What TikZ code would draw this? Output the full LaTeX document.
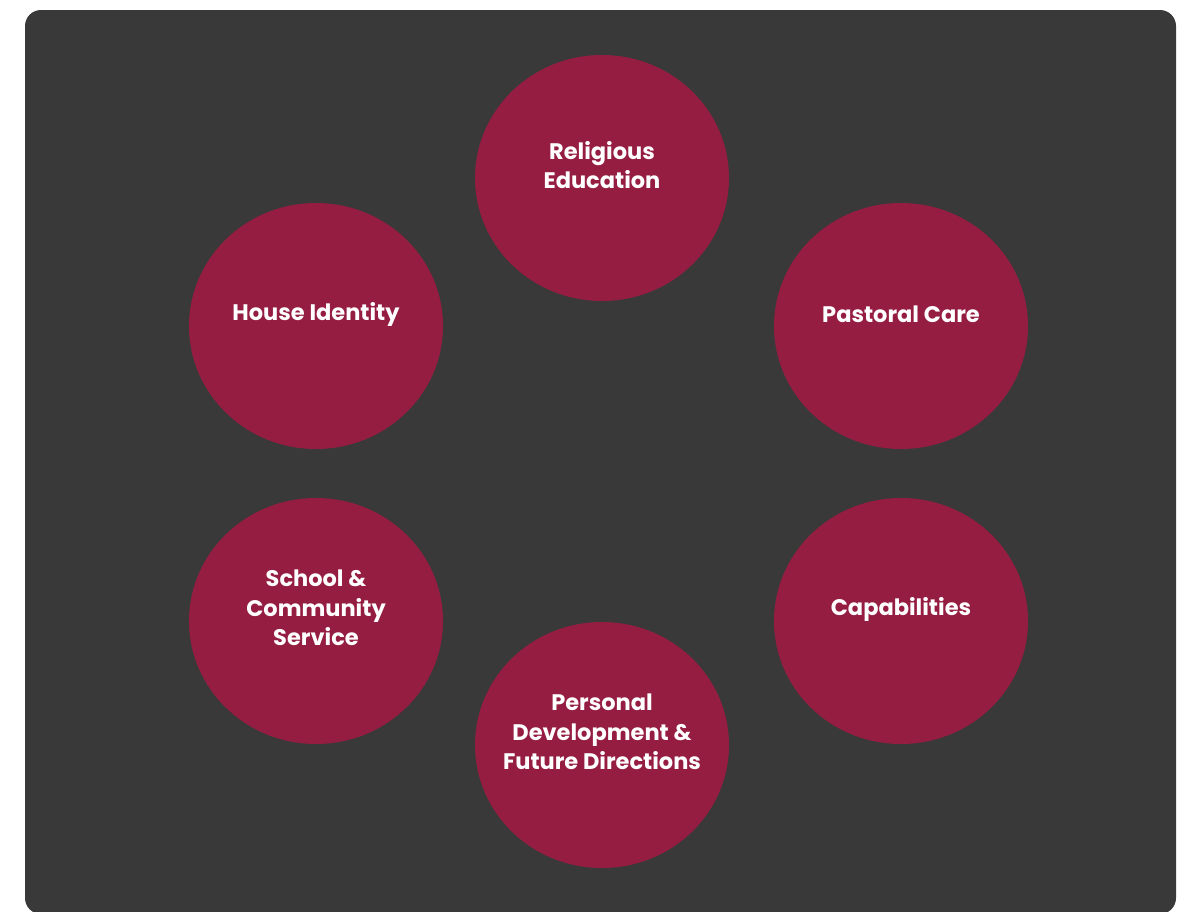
\documentclass[tikz,border=0pt]{standalone}
\usepackage{fontspec}
\setmainfont{Poppins}
\usetikzlibrary{positioning,shapes.geometric}
\definecolor{WheelBack}{RGB}{57,57,57}
\definecolor{WheelCrimson}{RGB}{149,29,65}
\tikzset{
  wheel part/.style={
    ellipse,
    fill=WheelCrimson,
    minimum width=254pt,
    minimum height=246pt,
    inner sep=0pt
  },
  wheel text/.style={
    text=white,
    align=center,
    font=\fontsize{22.5}{29.5}\selectfont\bfseries,
    inner sep=0pt
  }
}

\begin{document}
\begin{tikzpicture}[x=1pt,y=-1pt]
\useasboundingbox (0,0) rectangle (1189,911);
\fill[white] (0,0) rectangle (1189,911);
\fill[WheelBack, rounded corners=16pt] (25,10) rectangle (1176,914);
% six parts of the wheel
\node[wheel part] (rel) at (602,178) {};
\node[wheel part] (pas) at (901,326) {};
\node[wheel part] (cap) at (901,621) {};
\node[wheel part] (pdf) at (602,745) {};
\node[wheel part] (scs) at (316,621) {};
\node[wheel part] (hou) at (316,326) {};
% labels sit a little above the centres
\node[wheel text] (rel-t) at ([yshift=13pt]rel) {Religious\\Education};
\node[wheel text] (pas-t) at ([yshift=12pt]pas) {Pastoral Care};
\node[wheel text] (cap-t) at ([yshift=12pt]cap) {Capabilities};
\node[wheel text] (pdf-t) at ([yshift=13pt]pdf) {Personal\\Development \&\\Future Directions};
\node[wheel text] (scs-t) at ([yshift=13pt]scs) {School \&\\Community\\Service};
\node[wheel text] (hou-t) at ([yshift=12pt]hou) {House Identity};
\end{tikzpicture}
\end{document}
